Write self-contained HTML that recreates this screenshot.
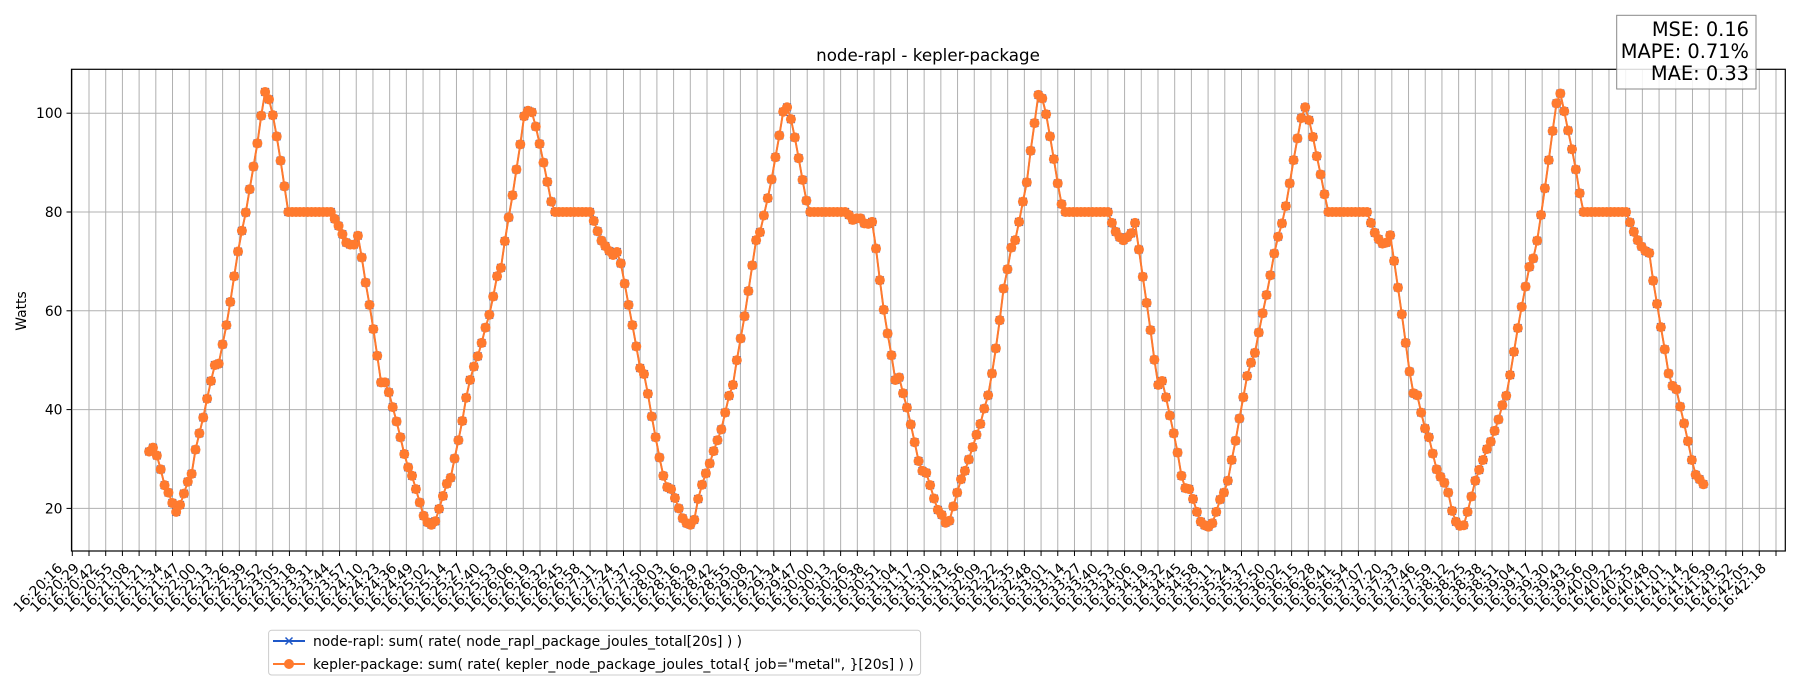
<!DOCTYPE html>
<html><head><meta charset="utf-8"><style>
html,body{margin:0;padding:0;background:#fff;}
svg{display:block;font-family:"DejaVu Sans","Liberation Sans",sans-serif;}
</style></head><body>
<svg id="chart" width="1800" height="700" viewBox="0 0 1800 700" xmlns="http://www.w3.org/2000/svg">
<rect x="0" y="0" width="1800" height="700" fill="#fff"/>
<g id="grid"></g>
<g id="xticks"></g>
<g id="yticks"></g>
<g id="series"></g>
<rect x="71.5" y="69.3" width="1713.8" height="481.7" fill="none" stroke="#000" stroke-width="1.2"/>
<text x="928" y="61" font-size="16.7" text-anchor="middle">node-rapl - kepler-package</text>
<text transform="translate(26,311) rotate(-90)" font-size="13.9" text-anchor="middle">Watts</text>
<g>
<rect x="1616.7" y="15.3" width="139.3" height="73.7" fill="#fff" fill-opacity="0.85" stroke="#888" stroke-width="1"/>
<text x="1749" y="36" font-size="19.4" text-anchor="end">MSE: 0.16</text>
<text x="1749" y="58" font-size="19.4" text-anchor="end">MAPE: 0.71%</text>
<text x="1749" y="80" font-size="19.4" text-anchor="end">MAE: 0.33</text>
</g>
<g>
<rect x="268.6" y="630.3" width="652" height="44.7" rx="3" fill="#fff" stroke="#ccc" stroke-width="1"/>
<g>
<line x1="273" y1="641" x2="305" y2="641" stroke="#1f58c8" stroke-width="2"/>
<path d="M285.5,637.5 L292.5,644.5 M285.5,644.5 L292.5,637.5" stroke="#1f58c8" stroke-width="1.5"/>
<text x="313" y="646" font-size="13.9">node-rapl: sum( rate( node_rapl_package_joules_total[20s] ) )</text>
</g>
<g>
<line x1="273" y1="664" x2="305" y2="664" stroke="#ff7a2e" stroke-width="2"/>
<circle cx="289" cy="664" r="5" fill="#ff7a2e"/>
<text x="313" y="669" font-size="13.9">kepler-package: sum( rate( kepler_node_package_joules_total{ job="metal", }[20s] ) )</text>
</g>
</g>
</svg>
<script>
const keplerWatts = [31.5,32.3,30.7,27.9,24.7,23.2,21.1,19.3,20.7,23,25.4,27,31.9,35.2,38.4,42.2,45.8,49,49.3,53.2,57.1,61.8,67,72,76.2,79.9,84.6,89.2,93.9,99.5,104.3,
102.8,99.6,95.3,90.4,85.2,
80,80,80,80,80,80,80,80,80,80,80,80,
78.6,77.2,75.5,73.8,73.4,73.4,75.2,
70.8,65.7,61.2,56.3,50.9,45.5,45.5,43.5,40.5,37.6,34.4,31,28.3,26.6,23.9,21.2,18.5,17.2,16.7,17.4,
19.9,22.5,25,26.2,30.1,33.8,37.7,42.4,46,48.7,50.8,53.5,56.6,59.2,62.9,67,68.7,74.1,78.9,83.4,88.6,93.7,99.4,100.5,
100.2,97.3,93.8,90,86.1,82.1,
80,80,80,80,80,80,80,80,80,80,
78.2,76.1,74.2,73.1,72.1,71.3,71.9,69.6,65.5,61.2,57.1,52.8,48.4,47.2,43.2,38.6,34.4,30.3,26.6,24.3,23.9,22.1,20,18,17,16.7,17.7,21.9,24.8,27.1,29.1,
31.6,33.8,36,39.4,42.8,45,50,54.4,58.9,64,69.2,74.3,75.9,79.3,82.8,86.6,91.1,95.5,100.3,101.2,98.8,95.1,90.9,86.5,82.3,
80,80,80,80,80,80,80,80,80,80,
79.4,78.4,78.7,78.7,77.7,77.6,78,72.6,66.2,60.2,55.4,51,46,46.5,43.3,40.4,37,33.4,29.6,27.6,27.2,24.7,22,19.7,18.7,17.1,17.5,20.4,23.2,25.9,27.6,29.9,32.4,34.9,37.1,40.2,42.9,47.3,52.4,58.1,64.5,68.4,72.8,74.3,78,82.1,
86,92.4,98,103.7,103,99.8,95.3,90.7,85.8,81.6,
80,80,80,80,80,80,80,80,80,80,80,80,
77.8,76,74.9,74.3,74.9,75.7,77.8,72.4,66.9,61.6,56.1,50.1,45,45.8,42.5,38.8,35.2,31.3,26.6,24.1,23.9,21.9,19.3,17.3,16.6,16.3,17,19.3,21.8,23.2,25.6,29.8,33.7,38.2,42.5,46.8,49.5,51.5,55.6,59.5,63.2,67.2,71.6,75,77.7,81.2,85.8,90.5,94.9,99,101.2,98.6,95.2,91.3,87.6,83.6,
80,80,80,80,80,80,80,80,80,80,80,
77.8,75.8,74.5,73.6,73.8,75.3,70.1,64.7,59.3,53.5,47.7,43.3,42.9,39.4,36.2,34.4,31.1,27.9,26.4,25.2,23.2,19.5,17.3,16.5,16.6,19.3,22.4,25.6,27.8,29.8,32,33.5,35.7,38,40.9,42.8,47,51.7,56.5,60.8,64.9,68.9,70.6,74.2,79.4,84.8,90.5,96.4,102,104,100.4,96.5,92.7,88.6,83.8,
80,80,80,80,80,80,80,80,80,80,80,80,
77.9,76,74.3,73,72.1,71.7,66.1,61.4,56.7,52.2,47.3,44.8,44.1,40.6,37.2,33.6,29.8,26.8,25.9,24.9];
const raplWatts = [31.5,32.3,30.7,27.9,24.7,23.2,21.1,19.3,20.7,23,25.4,27,31.9,35.2,38.4,42.2,45.8,49,49.3,53.2,57.1,61.8,67,72,76.2,79.9,84.6,89.2,93.9,99.5,104.3,
102.8,99.6,95.3,90.4,85.2,
80,80,80,80,80,80,80,80,80,80,80,80,
78.6,77.2,75.5,73.8,73.4,73.4,75.2,
70.8,65.7,61.2,56.3,50.9,45.5,45.5,43.5,40.5,37.6,34.4,31,28.3,26.6,23.9,21.2,18.5,17.2,16.7,17.4,
19.9,22.5,25,26.2,30.1,33.8,37.7,42.4,46,48.7,50.8,53.5,56.6,59.2,62.9,67,68.7,74.1,78.9,83.4,88.6,93.7,99.4,100.5,
100.2,97.3,93.8,90,86.1,82.1,
80,80,80,80,80,80,80,80,80,80,
78.2,76.1,74.2,73.1,72.1,71.3,71.9,69.6,65.5,61.2,57.1,52.8,48.4,47.2,43.2,38.6,34.4,30.3,26.6,24.3,23.9,22.1,20,18,17,16.7,17.7,21.9,24.8,27.1,29.1,
31.6,33.8,36,39.4,42.8,45,50,54.4,58.9,64,69.2,74.3,75.9,79.3,82.8,86.6,91.1,95.5,100.3,101.2,98.8,95.1,90.9,86.5,82.3,
80,80,80,80,80,80,80,80,80,80,
79.4,78.4,78.7,78.7,77.7,77.6,78,72.6,66.2,60.2,55.4,51,46,46.5,43.3,40.4,37,33.4,29.6,27.6,27.2,24.7,22,19.7,18.7,17.1,17.5,20.4,23.2,25.9,27.6,29.9,32.4,34.9,37.1,40.2,42.9,47.3,52.4,58.1,64.5,68.4,72.8,74.3,78,82.1,
86,92.4,98,103.7,103,99.8,95.3,90.7,85.8,81.6,
80,80,80,80,80,80,80,80,80,80,80,80,
77.8,76,74.9,74.3,74.9,75.7,77.8,72.4,66.9,61.6,56.1,50.1,45,45.8,42.5,38.8,35.2,31.3,26.6,24.1,23.9,21.9,19.3,17.3,16.6,16.3,17,19.3,21.8,23.2,25.6,29.8,33.7,38.2,42.5,46.8,49.5,51.5,55.6,59.5,63.2,67.2,71.6,75,77.7,81.2,85.8,90.5,94.9,99,101.2,98.6,95.2,91.3,87.6,83.6,
80,80,80,80,80,80,80,80,80,80,80,
77.8,75.8,74.5,73.6,73.8,75.3,70.1,64.7,59.3,53.5,47.7,43.3,42.9,39.4,36.2,34.4,31.1,27.9,26.4,25.2,23.2,19.5,17.3,16.5,16.6,19.3,22.4,25.6,27.8,29.8,32,33.5,35.7,38,40.9,42.8,47,51.7,56.5,60.8,64.9,68.9,70.6,74.2,79.4,84.8,90.5,96.4,102,104,100.4,96.5,92.7,88.6,83.8,
80,80,80,80,80,80,80,80,80,80,80,80,
77.9,76,74.3,73,72.1,71.7,66.1,61.4,56.7,52.2,47.3,44.8,44.1,40.6,37.2,33.6,29.8,26.8,25.9,24.9];
const yTickValues = [20, 40, 60, 80, 100];
const sampleStartSec = 59.6;
const sampleStepSec = 3;
const xTickCount = 103;
const xTickStepSec = 12.96;
const xTickLabels = [];
for (let i = 0; i < xTickCount; i++) {
  const s = 16*3600 + 20*60 + 16 + Math.floor(0.9 + i * xTickStepSec);
  const hh = Math.floor(s / 3600), mm = Math.floor((s % 3600) / 60), ss = s % 60;
  xTickLabels.push(hh + ':' + String(mm).padStart(2, '0') + ':' + String(ss).padStart(2, '0'));
}

const NS = 'http://www.w3.org/2000/svg';
const PL = 71.5, PR = 1785.3, PT = 69.3, PB = 551;
function xScale(sec) { return 72.3 + sec * 1.2888; }
function yScale(v) { return 508.4 - (v - 20) * 4.94; }
function mk(tag, attrs, parent) {
  const e = document.createElementNS(NS, tag);
  for (const k in attrs) e.setAttribute(k, attrs[k]);
  parent.appendChild(e);
  return e;
}
const grid = document.getElementById('grid');
const xt = document.getElementById('xticks');
const yt = document.getElementById('yticks');
const series = document.getElementById('series');

xTickLabels.forEach((lab, i) => {
  const x = xScale(i * xTickStepSec);
  const g = mk('line', {x1: x, x2: x, y1: PT, y2: PB, stroke: '#b0b0b0', 'stroke-width': 1}, grid);
  
  
  const t = mk('line', {x1: x, x2: x, y1: PB, y2: PB + 5, stroke: '#000', 'stroke-width': 1}, xt);
  
  
  const tx = mk('text', {transform: 'translate(' + (x - 9) + ',' + (PB + 18) + ') rotate(-45)', 'font-size': 13.9, 'text-anchor': 'end'}, xt);
  tx.textContent = lab;
  
  
});
yTickValues.forEach(v => {
  const y = yScale(v);
  const g = mk('line', {x1: PL, x2: PR, y1: y, y2: y, stroke: '#b0b0b0', 'stroke-width': 1}, grid);
  
  
  const t = mk('line', {x1: PL - 5, x2: PL, y1: y, y2: y, stroke: '#000', 'stroke-width': 1}, yt);
  
  
  const tx = mk('text', {x: PL - 9, y: y + 5, 'font-size': 13.9, 'text-anchor': 'end'}, yt);
  tx.textContent = v;
  
  
});

function pts(arr) {
  return arr.map((v, i) => [xScale(sampleStartSec + i * sampleStepSec), yScale(v)]);
}
const rp = pts(raplWatts);
const rl = mk('polyline', {points: rp.map(p => p.join(',')).join(' '), fill: 'none', stroke: '#1f58c8', 'stroke-width': 1.6}, series);


let d = '';
rp.forEach(p => { d += 'M' + (p[0]-3.8) + ',' + (p[1]-3.8) + 'L' + (p[0]+3.8) + ',' + (p[1]+3.8) + 'M' + (p[0]-3.8) + ',' + (p[1]+3.8) + 'L' + (p[0]+3.8) + ',' + (p[1]-3.8); });
const rm = mk('path', {d: d, stroke: '#1f58c8', 'stroke-width': 1.5, fill: 'none'}, series);


const kp = pts(keplerWatts);
const kl = mk('polyline', {points: kp.map(p => p.join(',')).join(' '), fill: 'none', stroke: '#ff7a2e', 'stroke-width': 2}, series);


const kg = mk('g', {fill: '#ff7a2e'}, series);


kp.forEach(p => {
  const c = mk('circle', {cx: p[0], cy: p[1], r: 5}, kg);
  
  
});
</script>
</body></html>
